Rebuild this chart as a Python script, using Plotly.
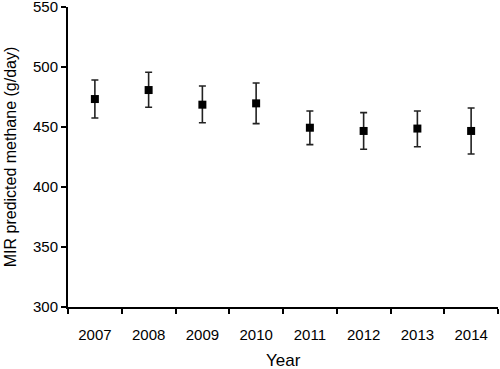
import plotly.graph_objects as go

years = ["2007", "2008", "2009", "2010", "2011", "2012", "2013", "2014"]
means = [473.3, 480.8, 468.6, 469.7, 449.4, 446.7, 448.7, 446.7]
err_plus = [15.9, 14.8, 15.6, 17.0, 13.9, 15.3, 14.6, 19.1]
err_minus = [15.8, 14.4, 15.0, 16.9, 14.1, 15.3, 15.1, 19.2]

fig = go.Figure(
    go.Scatter(
        x=years,
        y=means,
        mode="markers",
        marker=dict(symbol="square", size=8, color="black"),
        error_y=dict(
            type="data",
            symmetric=False,
            array=err_plus,
            arrayminus=err_minus,
            color="#222222",
            thickness=1.6,
            width=3.5,
        ),
        showlegend=False,
    )
)

font_family = "Liberation Sans, Arial, sans-serif"

fig.update_layout(
    width=500,
    height=369,
    margin=dict(l=68, r=2, t=7, b=62),
    plot_bgcolor="white",
    paper_bgcolor="white",
    font=dict(family=font_family, color="black", size=15),
    xaxis=dict(
        type="category",
        tickson="boundaries",
        ticks="outside",
        ticklen=5,
        tickwidth=2,
        tickcolor="black",
        showline=True,
        linecolor="black",
        linewidth=2,
        showgrid=False,
        zeroline=False,
        automargin=False,
        ticklabelstandoff=13,
        ticklabeloverflow="allow",
        tickfont=dict(size=15),
        range=[-0.5, 7.5],
    ),
    yaxis=dict(
        range=[300, 550],
        tickvals=[300, 350, 400, 450, 500, 550],
        ticks="outside",
        ticklen=5,
        tickwidth=2,
        tickcolor="black",
        showline=True,
        linecolor="black",
        linewidth=2,
        showgrid=False,
        zeroline=False,
        automargin=False,
        ticklabeloverflow="allow",
        tickfont=dict(size=15),
        title=dict(text="MIR predicted methane (g/day)", font=dict(size=16), standoff=12),
    ),
    annotations=[
        dict(
            text="Year",
            xref="paper",
            yref="paper",
            x=0.5,
            y=0,
            xanchor="center",
            yanchor="middle",
            yshift=-53,
            showarrow=False,
            font=dict(size=17, family=font_family, color="black"),
        )
    ],
)

fig.write_html(
    "out.html",
    config={"displayModeBar": False},
    post_script="document.body.style.margin='0';document.body.style.padding='0';",
)
